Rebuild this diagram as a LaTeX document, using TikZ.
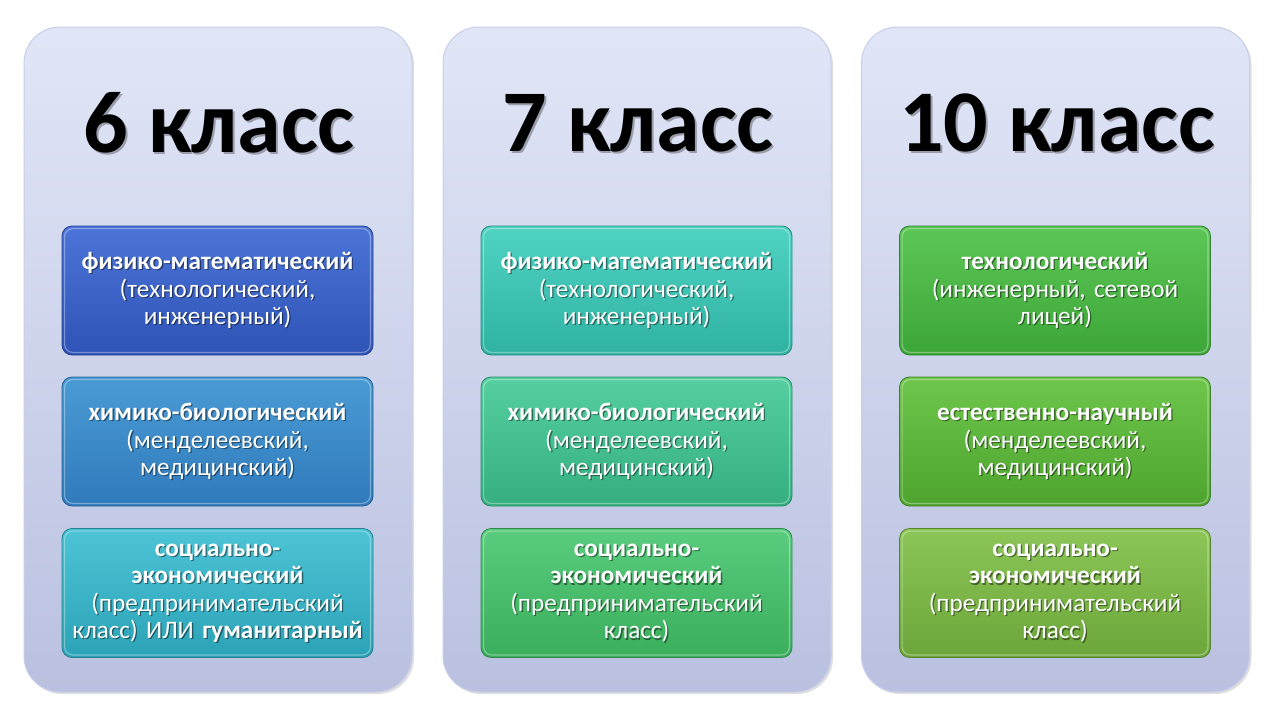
\documentclass[tikz,border=0pt]{standalone}
\usepackage{fontspec}
\setmainfont{Carlito}
\usetikzlibrary{shadows}
\definecolor{panTop}{HTML}{E1E6F7}
\definecolor{panBot}{HTML}{BAC1E0}
\definecolor{panEdge}{HTML}{C9CFE8}
\definecolor{aT}{HTML}{4C74D8}\definecolor{aB}{HTML}{2E53B6}
\definecolor{bT}{HTML}{4A9BD4}\definecolor{bB}{HTML}{307ABC}
\definecolor{cT}{HTML}{4CC4D6}\definecolor{cB}{HTML}{2CA2B6}
\definecolor{dT}{HTML}{50D3C2}\definecolor{dB}{HTML}{30B2A2}
\definecolor{eT}{HTML}{55CEA0}\definecolor{eB}{HTML}{35AF80}
\definecolor{fT}{HTML}{5ACC7E}\definecolor{fB}{HTML}{3AAE5C}
\definecolor{gT}{HTML}{5CC656}\definecolor{gB}{HTML}{3DA638}
\definecolor{hT}{HTML}{6EC64C}\definecolor{hB}{HTML}{4EA42E}
\definecolor{iT}{HTML}{8CC658}\definecolor{iB}{HTML}{6CA63A}
\tikzset{
  panel/.style={rounded corners=36pt, minimum width=388pt, minimum height=665pt,
    top color=panTop, bottom color=panBot, draw=panEdge, line width=1pt,
    drop shadow={shadow xshift=2pt, shadow yshift=-2pt, opacity=0.25}},
  title/.style={font=\bfseries\fontsize{88}{88}\selectfont, text=black},
  titleshadow/.style={font=\bfseries\fontsize{88}{88}\selectfont, text=black, opacity=0.3},
  cbox/.style={rounded corners=10pt, minimum width=311pt, minimum height=129pt,
    line width=0.8pt},
  btext/.style={font=\fontsize{25.2}{27.5}\selectfont, text=white, align=center, text width=305pt},
  bshadow/.style={font=\fontsize{25.2}{27.5}\selectfont, text=black, opacity=0.45, align=center, text width=305pt},
  hilite/.style={white, opacity=0.35, line width=1.2pt, rounded corners=8pt}
}
\newcommand\cellbox[6]{%
  \node[cbox, top color=#4, bottom color=#5, draw=#5!80!black] (#1) at (#2,#3) {};
  \draw[hilite] ([shift={(3,3)}]#1.north west) rectangle ([shift={(-3,-3)}]#1.south east);
  \node[bshadow] (#1s) at ([shift={(1.3,1.3)}]#1.center) {#6};
  \node[btext] (#1t) at (#1.center) {#6};
}
\newcommand\paneltitle[4]{%
  \node[titleshadow] (#1s) at (#2+1.8,#3+1.8) {#4};
  \node[title] (#1) at (#2,#3) {#4};
}
\begin{document}
\begin{tikzpicture}[x=1pt,y=-1pt]
\useasboundingbox (0,0) rectangle (1280,720);
\fill[white] (0,0) rectangle (1280,720);
\node[panel] (p1) at (218,359.5) {};
\node[panel] (p2) at (637,359.5) {};
\node[panel] (p3) at (1055.5,359.5) {};
\paneltitle{t1}{219}{123}{6 класс}
\paneltitle{t2}{638}{123}{7 класс}
\paneltitle{t3}{1057}{123}{10 класс}
\cellbox{a1}{217.5}{290.5}{aT}{aB}{\textbf{физико-математический}\\(технологический,\\инженерный)}
\cellbox{a2}{217.5}{441.5}{bT}{bB}{\textbf{химико-биологический}\\(менделеевский,\\медицинский)}
\cellbox{a3}{217.5}{593}{cT}{cB}{\textbf{социально-}\\\textbf{экономический}\\(предпринимательский\\класс) ИЛИ \textbf{гуманитарный}}
\cellbox{b1}{636.5}{290.5}{dT}{dB}{\textbf{физико-математический}\\(технологический,\\инженерный)}
\cellbox{b2}{636.5}{441.5}{eT}{eB}{\textbf{химико-биологический}\\(менделеевский,\\медицинский)}
\cellbox{b3}{636.5}{593}{fT}{fB}{\textbf{социально-}\\\textbf{экономический}\\(предпринимательский\\класс)}
\cellbox{c1}{1055}{290.5}{gT}{gB}{\textbf{технологический}\\(инженерный, сетевой\\лицей)}
\cellbox{c2}{1055}{441.5}{hT}{hB}{\textbf{естественно-научный}\\(менделеевский,\\медицинский)}
\cellbox{c3}{1055}{593}{iT}{iB}{\textbf{социально-}\\\textbf{экономический}\\(предпринимательский\\класс)}
\end{tikzpicture}
\end{document}
